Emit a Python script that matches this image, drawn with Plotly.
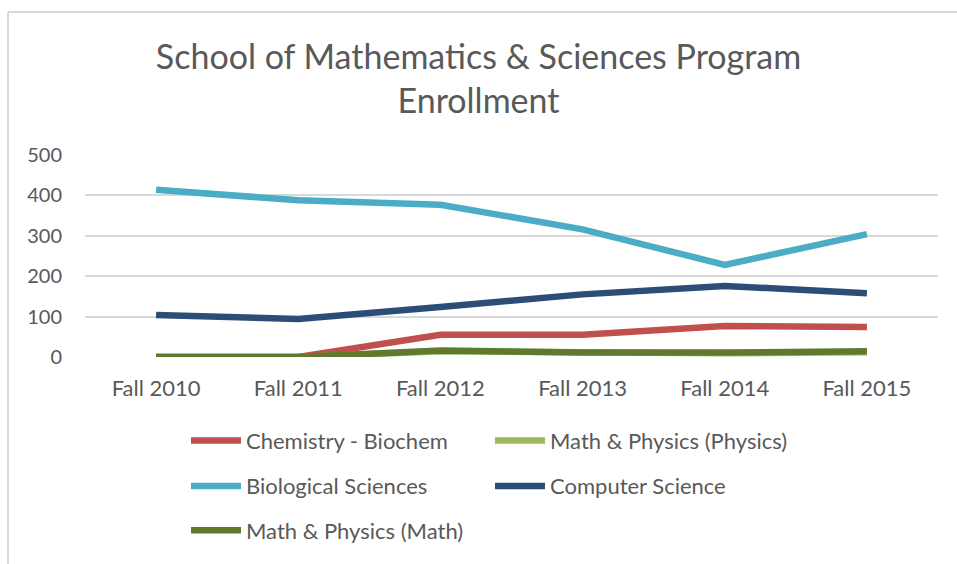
import plotly.graph_objects as go

categories = ["Fall 2010", "Fall 2011", "Fall 2012", "Fall 2013", "Fall 2014", "Fall 2015"]
chem = [0, 0, 55, 55, 77, 74]
physics = [0, 0, 14, 10, 9, 12]
bio = [414, 388, 377, 316, 228, 304]
cs = [104, 94, 124, 155, 176, 158]
math = [0, 0, 16, 11, 11, 14]
y_ticks = [0, 100, 200, 300, 400, 500]

FONT = "Lato"
TXT = "#595959"

series = [
    ("Chemistry - Biochem", chem, "#C0504D", "legend"),
    ("Math & Physics (Physics)", physics, "#9BBB59", "legend"),
    ("Biological Sciences", bio, "#4BACC6", "legend2"),
    ("Computer Science", cs, "#2C4D75", "legend2"),
    ("Math & Physics (Math)", math, "#60792F", "legend3"),
]

fig = go.Figure()
for name, vals, color, lg in series:
    fig.add_trace(go.Scatter(
        x=categories, y=vals, name=name, mode="lines",
        line=dict(color=color, width=6.5), legend=lg,
    ))

W, H = 957, 564
L, R, T, B = 85, 19, 155, 204
pw = W - L - R
ph = H - T - B

def px(x):
    return (x - L) / pw

def py(y):
    return (H - B - y) / ph

leg_common = dict(
    orientation="h", xanchor="left", yanchor="middle",
    font=dict(family=FONT, size=22, color=TXT),
    entrywidthmode="pixels", entrywidth=239,
    bgcolor="rgba(0,0,0,0)", itemwidth=50,
)

fig.update_layout(
    width=W, height=H,
    margin=dict(l=L, r=R, t=T, b=B),
    paper_bgcolor="white", plot_bgcolor="white",
    title=dict(
        text="School of Mathematics & Sciences Program<br>Enrollment",
        font=dict(family=FONT, size=34, color=TXT),
        x=0.5, xanchor="center", y=1 - 69 / H, yanchor="middle",
    ),
    xaxis=dict(
        type="category", range=[-0.5, len(categories) - 0.5],
        showgrid=False, showline=False, zeroline=False,
        tickfont=dict(family=FONT, size=22, color=TXT), ticks="",
        ticklabelstandoff=16,
    ),
    yaxis=dict(
        range=[0, 500], tickvals=y_ticks, showgrid=True, gridcolor="#D9D9D9",
        gridwidth=1.5, zeroline=False, showline=False, ticks="",
        tickfont=dict(family=FONT, size=20, color=TXT), ticklabelstandoff=22,
    ),
    legend=dict(x=px(186), y=py(445), **leg_common),
    legend2=dict(x=px(186), y=py(491), **leg_common),
    legend3=dict(x=px(186), y=py(536), **leg_common),
    shapes=[
        dict(type="line", xref="paper", yref="paper", x0=px(8), x1=px(1000),
             y0=py(10), y1=py(10), line=dict(color="#D9D9D9", width=2)),
        dict(type="line", xref="paper", yref="paper", x0=px(8), x1=px(8),
             y0=py(10), y1=py(600), line=dict(color="#D9D9D9", width=2)),
    ],
)

fig.write_html(
    "out.html",
    config={"displayModeBar": False},
    post_script="document.body.style.margin='0';document.body.style.overflow='hidden';",
)
